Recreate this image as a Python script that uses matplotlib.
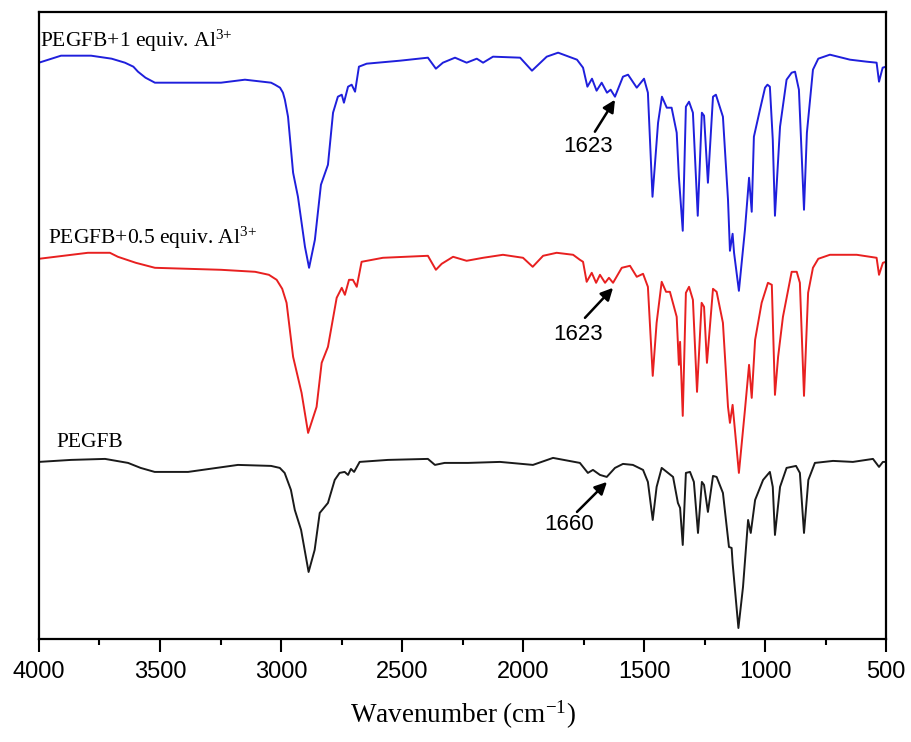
import matplotlib.pyplot as plt
from matplotlib.ticker import MultipleLocator

# FTIR spectra, transmittance in arbitrary (offset) units
wn_al1 = [4000, 3909, 3785, 3700, 3645, 3610, 3591, 3560, 3521, 3384, 3248, 3149, 3041, 3025,
          3004, 2992, 2984, 2971, 2950, 2930,
          2901, 2884, 2860, 2835, 2806, 2785, 2765, 2749, 2740, 2723, 2708, 2694, 2678, 2646,
          2508, 2393, 2360, 2331, 2281, 2233, 2191, 2165, 2124, 2012, 1963, 1902, 1855, 1777,
          1752, 1734, 1715, 1696, 1675, 1653, 1638, 1620, 1587, 1566, 1530, 1500, 1484, 1465,
          1442, 1426, 1406, 1386, 1365, 1356, 1340, 1327, 1314, 1298, 1278, 1261, 1252, 1236,
          1215, 1203, 1174, 1153, 1145, 1134, 1128, 1108, 1083, 1066, 1055, 1046, 1021, 1000,
          990, 980, 968, 959, 948, 938, 911, 890, 876, 860, 839, 827, 802, 780, 732, 649, 580,
          539, 529, 514, 500]
t_al1 = [576, 583, 583, 580, 576, 572, 567, 561, 556, 556, 556, 559, 556, 554,
         551, 546, 539, 522, 466, 442,
         392, 371, 399, 454, 474, 526, 542, 544, 536, 552, 554, 547, 572, 575,
         578, 581, 570, 576, 581, 576, 580, 576, 582, 581, 568, 582, 586, 579,
         571, 552, 560, 548, 556, 546, 549, 542, 562, 564, 551, 560, 546, 442,
         516, 542, 531, 531, 506, 462, 408, 532, 537, 526, 423, 526, 523, 456,
         542, 544, 522, 439, 388, 405, 386, 348, 409, 461, 427, 502, 529, 551,
         554, 552, 499, 423, 470, 512, 559, 566, 567, 549, 429, 506, 569, 580, 584, 579, 577,
         576, 557, 571, 572]

wn_al05 = [4000, 3798, 3707, 3674, 3600, 3521, 3248, 3107, 3050, 3018, 2995, 2977, 2950, 2915,
           2888, 2853, 2832,
           2806, 2770, 2749, 2736, 2719, 2703, 2687, 2667, 2579, 2393, 2360, 2336, 2289, 2233,
           2165, 2083, 2000, 1960, 1917, 1861, 1793, 1765, 1752, 1737, 1716, 1698, 1682, 1661,
           1645, 1628, 1592, 1558, 1530, 1504, 1484, 1464, 1448, 1427, 1409, 1393, 1365, 1356,
           1351, 1340, 1327, 1314, 1298, 1281, 1262, 1252, 1240, 1215, 1200, 1174, 1153, 1145,
           1134, 1108, 1083, 1066, 1055, 1041, 1014, 988, 972, 959, 946, 926, 890, 869, 856,
           839, 822, 802, 780, 732, 621, 539, 529, 513, 500]
t_al05 = [380, 386, 386, 382, 376, 371, 369, 367, 364, 359, 350, 336, 282, 246,
          206, 232, 276,
          292, 341, 351, 344, 359, 359, 352, 377, 381, 383, 369, 375, 382, 378,
          381, 384, 381, 372, 383, 386, 384, 379, 377, 357, 366, 356, 364, 356,
          361, 356, 371, 373, 362, 365, 352, 263, 316, 357, 347, 347, 322, 274,
          297, 223, 346, 352, 339, 247, 336, 332, 276, 350, 347, 316, 232, 216,
          234, 166, 229, 274, 241, 299, 336, 356, 354, 244, 282, 322, 367, 367, 356,
          243, 346, 371, 380, 384, 384, 381, 364, 376, 377]

wn_pegfb = [4000, 3868, 3727, 3632, 3580, 3522, 3384, 3178, 3041, 3005, 2985, 2959, 2943, 2917,
            2886, 2861,
            2840, 2806, 2778, 2758, 2737, 2723, 2711, 2698, 2675, 2558, 2393, 2364, 2324, 2227,
            2095, 1959, 1876, 1765, 1732, 1711, 1682, 1654, 1620, 1587, 1546, 1504, 1484, 1464,
            1448, 1427, 1406, 1380, 1360, 1351, 1340, 1327, 1310, 1294, 1277, 1261, 1252, 1236,
            1215, 1200, 1174, 1149, 1138, 1134, 1110, 1091, 1070, 1059, 1041, 1008, 980, 968,
            959, 938, 911, 872, 856, 839, 821, 794, 719, 637, 554, 529, 513, 500]
t_pegfb = [177, 179, 180, 176, 171, 167, 167, 174, 173, 171, 166, 149, 129, 109,
           67, 89,
           126, 136, 159, 166, 167, 164, 170, 167, 177, 179, 180, 174, 176, 176,
           177, 174, 181, 176, 166, 169, 164, 162, 171, 175, 174, 169, 157, 119,
           152, 171, 167, 162, 136, 131, 94, 166, 167, 157, 106, 157, 154, 127,
           163, 162, 146, 92, 91, 76, 11, 52, 119, 106, 139, 159, 167, 152,
           104, 152, 171, 173, 166, 106, 159, 176, 178, 177, 180, 172, 177, 177]

# peak annotations: label, arrow head (wn, T), arrow tail (wn, T), text centre (wn, T)
notes = [
    ("1623", (1620, 539), (1703, 507), (1732, 492)),
    ("1623", (1628, 351), (1744, 321), (1773, 304)),
    ("1660", (1653, 157), (1777, 127), (1810, 114)),
]

plt.rcParams['mathtext.fontset'] = 'custom'
plt.rcParams['mathtext.rm'] = 'Liberation Serif'
plt.rcParams['mathtext.it'] = 'Liberation Serif:italic'

fig = plt.figure(figsize=(9.11, 7.42), dpi=100)
ax = fig.add_axes([0.0428, 0.1388, 0.9298, 0.8455])

ax.plot(wn_al1, t_al1, color='#1f1fdc', lw=1.4)
ax.plot(wn_al05, t_al05, color='#e82020', lw=1.4)
ax.plot(wn_pegfb, t_pegfb, color='#1a1a1a', lw=1.4)

serif = 'Liberation Serif'
ax.text(3996, 592, r'PEGFB+1 equiv. Al$^{\mathrm{3{+}}}$', family=serif, fontsize=15.5,
        va='baseline')
ax.text(3963, 395, r'PEGFB+0.5 equiv. Al$^{\mathrm{3{+}}}$', family=serif, fontsize=15.5,
        va='baseline')
ax.text(3926, 192, 'PEGFB', family=serif, fontsize=15.5, va='baseline')

for label, head, tail, pos in notes:
    ax.annotate('', xy=head, xytext=tail,
                arrowprops=dict(arrowstyle='-|>', color='black', lw=1.8,
                                mutation_scale=18, shrinkA=0, shrinkB=0))
    ax.text(pos[0], pos[1], label, family='Liberation Sans', fontsize=16,
            ha='center', va='center')

ax.set_xlim(4000, 500)
ax.set_ylim(0, 627)
ax.xaxis.set_major_locator(MultipleLocator(500))
ax.xaxis.set_minor_locator(MultipleLocator(250))
ax.tick_params(axis='x', which='major', direction='out', length=9.5, width=1.5,
               labelsize=17, pad=6)
ax.tick_params(axis='x', which='minor', direction='out', length=4.5, width=1.5)
ax.tick_params(axis='y', left=False, labelleft=False)
for lab in ax.get_xticklabels():
    lab.set_family('Liberation Sans')
for sp in ax.spines.values():
    sp.set_linewidth(1.6)

ax.set_xlabel(r'Wavenumber (cm$^{\mathrm{-1}}$)', family=serif, fontsize=19.5, labelpad=12)

fig.savefig('out.png', dpi=100)
